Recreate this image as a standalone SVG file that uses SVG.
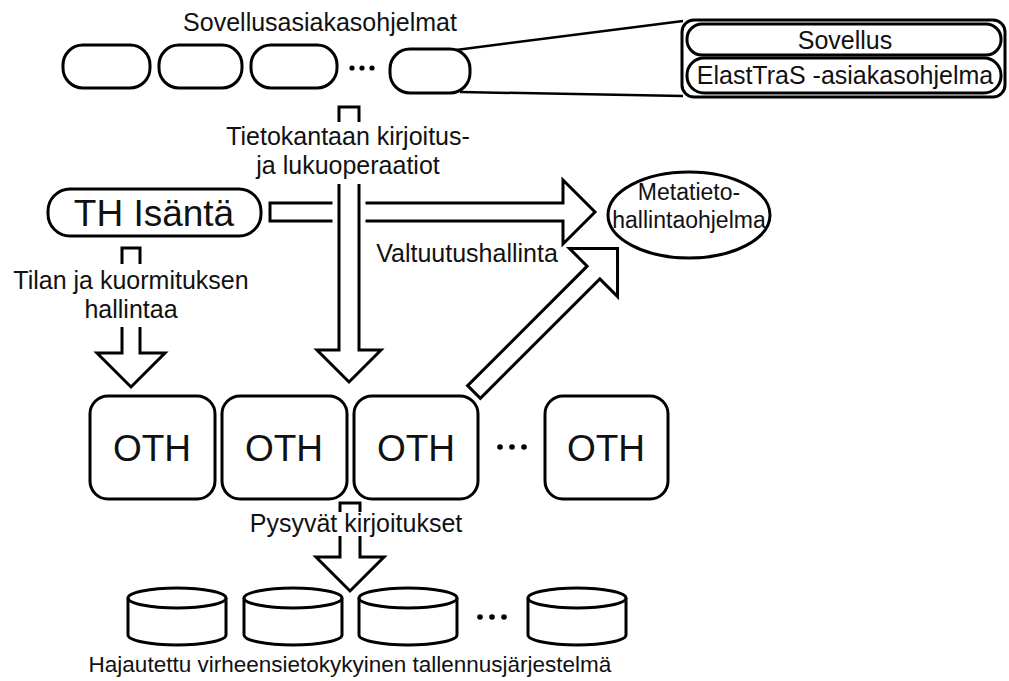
<svg xmlns="http://www.w3.org/2000/svg" width="1009" height="681" viewBox="0 0 1009 681">
<style>
.box{fill:#fff;stroke:#000;stroke-width:3}
.arr{fill:#fff;stroke:#000;stroke-width:3;stroke-linejoin:miter}
.halo{fill:#fff;stroke:#fff;stroke-width:13;stroke-linejoin:miter}
.bg{fill:#fff;stroke:none}
text{font-family:"Liberation Sans",Arial,sans-serif;fill:#111;text-anchor:middle}
.lbl{font-size:25px}
.sm{font-size:23px}
.big{font-size:37px}
</style>
<rect width="1009" height="681" fill="#fff"/>
<g id="connectors">
  <path class="arr" d="M270,203 H563 V180 L595,212 L563,244 V221 H270 Z"/>
  <path class="halo" d="M339,107 H359 V350 H381 L349,382 L317,350 H339 Z"/>
  <path class="arr" d="M339,107 H359 V350 H381 L349,382 L317,350 H339 Z"/>
  <path class="arr" d="M122,248 H140 V353 H165 L131,387 L97,353 H122 Z"/>
  <path class="arr" d="M340,503 H360 V557 H384 L350,591 L316,557 H340 Z"/>
  <path class="arr" transform="translate(474,392) rotate(-45)" d="M0,-9 H169 V-34 L203,0 L169,34 V9 H0 Z"/>
  <line x1="456" y1="50" x2="683" y2="21" stroke="#000" stroke-width="2.5"/>
  <line x1="460" y1="92" x2="683" y2="96" stroke="#000" stroke-width="2.5"/>
</g>
<g id="labels">
  <rect class="bg" x="222" y="122" width="252" height="62"/>
  <text class="lbl" x="348" y="145">Tietokantaan kirjoitus-</text>
  <text class="lbl" x="348" y="174">ja lukuoperaatiot</text>
  <rect class="bg" x="4" y="264" width="254" height="63"/>
  <text class="lbl" x="131" y="289">Tilan ja kuormituksen</text>
  <text class="lbl" x="131" y="318">hallintaa</text>
  <rect class="bg" x="240" y="512" width="232" height="24"/>
  <text class="lbl" x="356" y="532">Pysyvät kirjoitukset</text>
  <text class="lbl" x="467" y="262">Valtuutushallinta</text>
  <text class="lbl" x="320" y="31">Sovellusasiakasohjelmat</text>
  <text class="lbl" x="350" y="672" style="font-size:22.5px">Hajautettu virheensietokykyinen tallennusjärjestelmä</text>
</g>
<g id="client1"><rect class="box" x="63" y="45" width="87" height="43" rx="20"/></g>
<g id="client2"><rect class="box" x="159" y="45" width="83" height="43" rx="20"/></g>
<g id="client3"><rect class="box" x="251" y="45" width="86" height="43" rx="20"/></g>
<g id="clientdots" fill="#000"><circle cx="352" cy="68" r="2.6"/><circle cx="362" cy="68" r="2.6"/><circle cx="372" cy="68" r="2.6"/></g>
<g id="client4"><rect class="box" x="390" y="49" width="80" height="44" rx="20"/></g>
<g id="clientdetail">
  <rect class="box" x="682" y="20" width="323" height="77" rx="12"/>
  <rect class="box" x="687" y="24" width="314" height="31" rx="15"/>
  <rect class="box" x="687" y="58" width="314" height="35" rx="17"/>
  <text class="lbl" x="845" y="49">Sovellus</text>
  <text class="lbl" x="845" y="84">ElastTraS -asiakasohjelma</text>
</g>
<g id="th"><rect class="box" x="48" y="189" width="213" height="47" rx="22"/><text class="big" x="154" y="226">TH Isäntä</text></g>
<g id="meta"><ellipse class="box" cx="689" cy="215" rx="81" ry="43"/><text class="sm" x="689" y="200">Metatieto-</text><text class="sm" x="689" y="228">hallintaohjelma</text></g>
<g id="oth1"><rect class="box" x="90" y="396" width="125" height="103" rx="18"/><text class="big" x="152" y="461">OTH</text></g>
<g id="oth2"><rect class="box" x="222" y="396" width="125" height="103" rx="18"/><text class="big" x="284" y="461">OTH</text></g>
<g id="oth3"><rect class="box" x="354" y="396" width="124" height="103" rx="18"/><text class="big" x="416" y="461">OTH</text></g>
<g id="othdots" fill="#000"><circle cx="500" cy="447" r="2.8"/><circle cx="512" cy="447" r="2.8"/><circle cx="524" cy="447" r="2.8"/></g>
<g id="oth4"><rect class="box" x="545" y="396" width="123" height="103" rx="18"/><text class="big" x="606" y="461">OTH</text></g>
<g id="cyl1"><path class="box" d="M128,598 V635 A49,10 0 0 0 226,635 V598"/><ellipse class="box" cx="177" cy="598" rx="49" ry="10"/></g>
<g id="cyl2"><path class="box" d="M244,598 V635 A49,10 0 0 0 342,635 V598"/><ellipse class="box" cx="293" cy="598" rx="49" ry="10"/></g>
<g id="cyl3"><path class="box" d="M359,598 V635 A49,10 0 0 0 457,635 V598"/><ellipse class="box" cx="408" cy="598" rx="49" ry="10"/></g>
<g id="cyldots" fill="#000"><circle cx="480" cy="617" r="2.8"/><circle cx="492" cy="617" r="2.8"/><circle cx="504" cy="617" r="2.8"/></g>
<g id="cyl4"><path class="box" d="M528,598 V635 A49,10 0 0 0 626,635 V598"/><ellipse class="box" cx="577" cy="598" rx="49" ry="10"/></g>
</svg>
